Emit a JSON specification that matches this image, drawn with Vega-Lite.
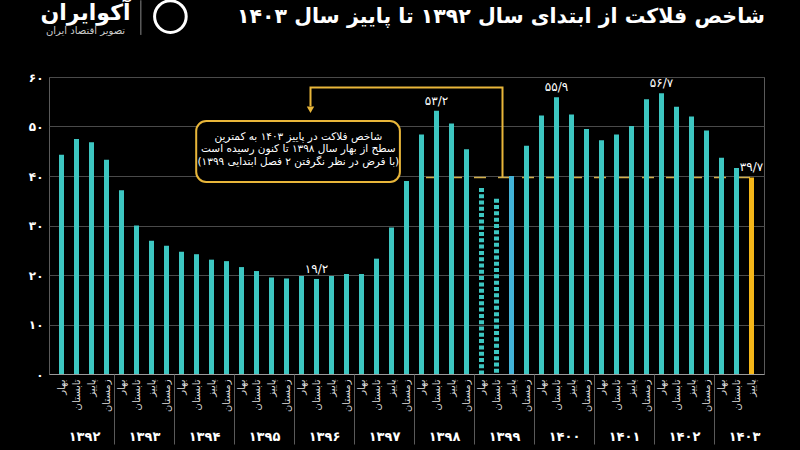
{
  "$schema": "https://vega.github.io/schema/vega-lite/v6.json",
  "width": 715,
  "height": 297,
  "autosize": {"type": "none"},
  "padding": {"left": 49, "top": 77, "right": 36, "bottom": 76},
  "background": "#000000",
  "config": {"font": "DejaVu Sans", "view": {"stroke": "#5a5a5a", "strokeWidth": 1}},
  "datasets": {
    "bars": [
      {"i": 0, "year": "۱۳۹۲", "season": "بهار", "value": 44.3, "kind": "normal"},
      {"i": 1, "year": "۱۳۹۲", "season": "تابستان", "value": 47.5, "kind": "normal"},
      {"i": 2, "year": "۱۳۹۲", "season": "پاییز", "value": 46.8, "kind": "normal"},
      {"i": 3, "year": "۱۳۹۲", "season": "زمستان", "value": 43.3, "kind": "normal"},
      {"i": 4, "year": "۱۳۹۳", "season": "بهار", "value": 37.1, "kind": "normal"},
      {"i": 5, "year": "۱۳۹۳", "season": "تابستان", "value": 30.0, "kind": "normal"},
      {"i": 6, "year": "۱۳۹۳", "season": "پاییز", "value": 26.9, "kind": "normal"},
      {"i": 7, "year": "۱۳۹۳", "season": "زمستان", "value": 25.9, "kind": "normal"},
      {"i": 8, "year": "۱۳۹۴", "season": "بهار", "value": 24.7, "kind": "normal"},
      {"i": 9, "year": "۱۳۹۴", "season": "تابستان", "value": 24.2, "kind": "normal"},
      {"i": 10, "year": "۱۳۹۴", "season": "پاییز", "value": 23.1, "kind": "normal"},
      {"i": 11, "year": "۱۳۹۴", "season": "زمستان", "value": 22.8, "kind": "normal"},
      {"i": 12, "year": "۱۳۹۵", "season": "بهار", "value": 21.6, "kind": "normal"},
      {"i": 13, "year": "۱۳۹۵", "season": "تابستان", "value": 20.8, "kind": "normal"},
      {"i": 14, "year": "۱۳۹۵", "season": "پاییز", "value": 19.5, "kind": "normal"},
      {"i": 15, "year": "۱۳۹۵", "season": "زمستان", "value": 19.3, "kind": "normal"},
      {"i": 16, "year": "۱۳۹۶", "season": "بهار", "value": 19.8, "kind": "normal"},
      {"i": 17, "year": "۱۳۹۶", "season": "تابستان", "value": 19.2, "kind": "normal"},
      {"i": 18, "year": "۱۳۹۶", "season": "پاییز", "value": 19.8, "kind": "normal"},
      {"i": 19, "year": "۱۳۹۶", "season": "زمستان", "value": 20.2, "kind": "normal"},
      {"i": 20, "year": "۱۳۹۷", "season": "بهار", "value": 20.2, "kind": "normal"},
      {"i": 21, "year": "۱۳۹۷", "season": "تابستان", "value": 23.3, "kind": "normal"},
      {"i": 22, "year": "۱۳۹۷", "season": "پاییز", "value": 29.6, "kind": "normal"},
      {"i": 23, "year": "۱۳۹۷", "season": "زمستان", "value": 39.0, "kind": "normal"},
      {"i": 24, "year": "۱۳۹۸", "season": "بهار", "value": 48.4, "kind": "normal"},
      {"i": 25, "year": "۱۳۹۸", "season": "تابستان", "value": 53.2, "kind": "normal"},
      {"i": 26, "year": "۱۳۹۸", "season": "پاییز", "value": 50.6, "kind": "normal"},
      {"i": 27, "year": "۱۳۹۸", "season": "زمستان", "value": 45.4, "kind": "normal"},
      {"i": 28, "year": "۱۳۹۹", "season": "بهار", "value": 37.6, "kind": "dotted"},
      {"i": 29, "year": "۱۳۹۹", "season": "تابستان", "value": 35.4, "kind": "dotted"},
      {"i": 30, "year": "۱۳۹۹", "season": "پاییز", "value": 40.0, "kind": "ref"},
      {"i": 31, "year": "۱۳۹۹", "season": "زمستان", "value": 46.1, "kind": "normal"},
      {"i": 32, "year": "۱۴۰۰", "season": "بهار", "value": 52.2, "kind": "normal"},
      {"i": 33, "year": "۱۴۰۰", "season": "تابستان", "value": 55.9, "kind": "normal"},
      {"i": 34, "year": "۱۴۰۰", "season": "پاییز", "value": 52.4, "kind": "normal"},
      {"i": 35, "year": "۱۴۰۰", "season": "زمستان", "value": 49.5, "kind": "normal"},
      {"i": 36, "year": "۱۴۰۱", "season": "بهار", "value": 47.2, "kind": "normal"},
      {"i": 37, "year": "۱۴۰۱", "season": "تابستان", "value": 48.4, "kind": "normal"},
      {"i": 38, "year": "۱۴۰۱", "season": "پاییز", "value": 50.1, "kind": "normal"},
      {"i": 39, "year": "۱۴۰۱", "season": "زمستان", "value": 55.5, "kind": "normal"},
      {"i": 40, "year": "۱۴۰۲", "season": "بهار", "value": 56.7, "kind": "normal"},
      {"i": 41, "year": "۱۴۰۲", "season": "تابستان", "value": 54.0, "kind": "normal"},
      {"i": 42, "year": "۱۴۰۲", "season": "پاییز", "value": 52.0, "kind": "normal"},
      {"i": 43, "year": "۱۴۰۲", "season": "زمستان", "value": 49.2, "kind": "normal"},
      {"i": 44, "year": "۱۴۰۳", "season": "بهار", "value": 43.7, "kind": "normal"},
      {"i": 45, "year": "۱۴۰۳", "season": "تابستان", "value": 41.6, "kind": "normal"},
      {"i": 46, "year": "۱۴۰۳", "season": "پاییز", "value": 39.7, "kind": "last"}
    ],
    "refline": [{"x": 24.3, "x2": 46, "y": 39.7}],
    "conn": [
      {"x": 16.6, "y": 54.1, "o": 1},
      {"x": 16.6, "y": 57.9, "o": 2},
      {"x": 29.4, "y": 57.9, "o": 3},
      {"x": 29.4, "y": 39.7, "o": 4}
    ],
    "arrow": [{"x": 16.6, "y": 53.4}],
    "box": [{"x": 8.98, "x2": 22.56, "y": 51.1, "y2": 38.8}],
    "boxtext": [
      {"x": 15.79, "y": 47.9, "t": "شاخص فلاکت در پاییز ۱۴۰۳ به کمترین"},
      {"x": 15.79, "y": 45.4, "t": "سطح از بهار سال ۱۳۹۸ تا کنون رسیده است"},
      {"x": 15.79, "y": 42.9, "t": "(با فرض در نظر نگرفتن ۲ فصل ابتدایی ۱۳۹۹)"}
    ],
    "labels": [
      {"i": 17, "value": 19.2, "t": "۱۹/۲"},
      {"i": 25, "value": 53.2, "t": "۵۳/۲"},
      {"i": 33, "value": 55.9, "t": "۵۵/۹"},
      {"i": 40, "value": 56.7, "t": "۵۶/۷"},
      {"i": 46, "value": 39.7, "t": "۳۹/۷"}
    ],
    "heading": [{"x": 46.9, "y": 71.0, "t": "شاخص فلاکت از ابتدای سال ۱۳۹۲ تا پاییز سال ۱۴۰۳"}],
    "logo": [
      {"x": 1.6, "y": 71.5, "t": "آکوایران", "k": "big"},
      {"x": 1.6, "y": 68.6, "t": "تصویر اقتصاد ایران", "k": "small"}
    ],
    "divider": [{"x": 5.29, "y": 75.5, "y2": 68.5}],
    "icon": [{"x": 7.26, "y": 72.2}]
  },
  "resolve": {"axis": {"x": "independent", "y": "independent"}},
  "layer": [
    {
      "data": {"name": "refline"},
      "mark": {"type": "rule", "color": "#d4b04a", "strokeWidth": 1.5, "strokeDash": [12, 12]},
      "encoding": {
        "x": {"field": "x", "type": "quantitative", "scale": {"domain": [-0.5, 46.5], "nice": false, "zero": false},
          "axis": {"orient": "bottom", "values": [1.5, 5.5, 9.5, 13.5, 17.5, 21.5, 25.5, 29.5, 33.5, 37.5, 41.5, 45.5],
            "labelExpr": "['۱۳۹۲','۱۳۹۳','۱۳۹۴','۱۳۹۵','۱۳۹۶','۱۳۹۷','۱۳۹۸','۱۳۹۹','۱۴۰۰','۱۴۰۱','۱۴۰۲','۱۴۰۳'][floor(datum.value/4)]",
            "labelAngle": 0, "labelFontSize": 13, "labelFontWeight": "bold", "labelColor": "#ffffff", "ticks": false, "domain": false, "grid": false,
            "offset": 54, "labelPadding": 2, "title": null, "labelBaseline": "top", "labelFlush": false, "labelOverlap": false}},
        "x2": {"field": "x2"},
        "y": {"field": "y", "type": "quantitative", "scale": {"domain": [0, 60], "nice": false}, "axis": null}
      }
    },
    {
      "data": {"name": "bars"},
      "transform": [{"filter": "datum.kind != 'dotted'"}],
      "mark": {"type": "bar", "width": 5},
      "encoding": {
        "x": {"field": "i", "type": "quantitative", "scale": {"domain": [-0.5, 46.5], "nice": false, "zero": false},
          "axis": {"orient": "bottom", "values": [0,1,2,3,4,5,6,7,8,9,10,11,12,13,14,15,16,17,18,19,20,21,22,23,24,25,26,27,28,29,30,31,32,33,34,35,36,37,38,39,40,41,42,43,44,45,46],
            "labelExpr": "['بهار','تابستان','پاییز','زمستان'][datum.value % 4]",
            "labelAngle": -90, "labelFontSize": 10, "labelColor": "#dddddd", "ticks": false, "domain": true, "domainColor": "#9a9a9a",
            "grid": false, "title": null, "labelPadding": 5, "labelFlush": false, "labelOverlap": false}},
        "y": {"field": "value", "type": "quantitative", "scale": {"domain": [0, 60], "nice": false},
          "axis": {"values": [0, 10, 20, 30, 40, 50, 60], "labelExpr": "['۰','۱۰','۲۰','۳۰','۴۰','۵۰','۶۰'][datum.value/10]",
            "grid": true, "gridColor": "#4a4a4a", "gridWidth": 1, "ticks": false, "domain": false, "title": null,
            "labelFontSize": 12, "labelColor": "#ffffff", "labelPadding": 6, "labelFontWeight": "bold"}},
        "color": {"field": "kind", "type": "nominal", "scale": {"domain": ["normal", "ref", "last"], "range": ["#3dc6c1", "#42b3d8", "#f4b619"]}, "legend": null}
      }
    },
    {
      "data": {"name": "bars"},
      "transform": [{"filter": "datum.kind == 'dotted'"}],
      "mark": {"type": "rule", "color": "#3dc6c1", "strokeWidth": 5, "strokeDash": [4, 2.3]},
      "encoding": {
        "x": {"field": "i", "type": "quantitative", "axis": null},
        "y": {"field": "value", "type": "quantitative", "axis": null},
        "y2": {"datum": 0}
      }
    },
    {
      "data": {"name": "conn"},
      "mark": {"type": "line", "color": "#e8b63a", "strokeWidth": 2},
      "encoding": {
        "x": {"field": "x", "type": "quantitative",
          "axis": {"orient": "bottom", "values": [3.5, 7.5, 11.5, 15.5, 19.5, 23.5, 27.5, 31.5, 35.5, 39.5, 43.5],
            "ticks": true, "tickSize": 70, "tickColor": "#5a5a5a", "tickWidth": 1, "labels": false, "domain": false, "grid": false, "title": null}},
        "y": {"field": "y", "type": "quantitative", "axis": null},
        "order": {"field": "o", "type": "quantitative"}
      }
    },
    {
      "data": {"name": "arrow"},
      "mark": {"type": "point", "shape": "triangle-down", "filled": true, "color": "#e8b63a", "size": 55, "opacity": 1},
      "encoding": {
        "x": {"field": "x", "type": "quantitative", "axis": null},
        "y": {"field": "y", "type": "quantitative", "axis": null}
      }
    },
    {
      "data": {"name": "box"},
      "mark": {"type": "rect", "fill": "#000000", "stroke": "#e8b63a", "strokeWidth": 2, "cornerRadius": 10},
      "encoding": {
        "x": {"field": "x", "type": "quantitative", "axis": null},
        "x2": {"field": "x2"},
        "y": {"field": "y", "type": "quantitative", "axis": null},
        "y2": {"field": "y2"}
      }
    },
    {
      "data": {"name": "boxtext"},
      "mark": {"type": "text", "color": "#ffffff", "fontSize": 10.5, "align": "center", "baseline": "middle"},
      "encoding": {
        "x": {"field": "x", "type": "quantitative", "axis": null},
        "y": {"field": "y", "type": "quantitative", "axis": null},
        "text": {"field": "t"}
      }
    },
    {
      "data": {"name": "labels"},
      "mark": {"type": "text", "color": "#ffffff", "fontSize": 12, "align": "center", "baseline": "bottom", "dy": -3},
      "encoding": {
        "x": {"field": "i", "type": "quantitative", "axis": null},
        "y": {"field": "value", "type": "quantitative", "axis": null},
        "text": {"field": "t"}
      }
    },
    {
      "data": {"name": "heading"},
      "mark": {"type": "text", "color": "#ffffff", "fontSize": 20.5, "fontWeight": "bold", "align": "right", "baseline": "alphabetic"},
      "encoding": {
        "x": {"field": "x", "type": "quantitative", "axis": null},
        "y": {"field": "y", "type": "quantitative", "axis": null},
        "text": {"field": "t"}
      }
    },
    {
      "data": {"name": "logo"},
      "transform": [{"filter": "datum.k == 'big'"}],
      "mark": {"type": "text", "color": "#ffffff", "fontSize": 22, "fontWeight": "bold", "align": "center", "baseline": "alphabetic"},
      "encoding": {
        "x": {"field": "x", "type": "quantitative", "axis": null},
        "y": {"field": "y", "type": "quantitative", "axis": null},
        "text": {"field": "t"}
      }
    },
    {
      "data": {"name": "logo"},
      "transform": [{"filter": "datum.k == 'small'"}],
      "mark": {"type": "text", "color": "#cccccc", "fontSize": 10, "align": "center", "baseline": "alphabetic"},
      "encoding": {
        "x": {"field": "x", "type": "quantitative", "axis": null},
        "y": {"field": "y", "type": "quantitative", "axis": null},
        "text": {"field": "t"}
      }
    },
    {
      "data": {"name": "divider"},
      "mark": {"type": "rule", "color": "#888888", "strokeWidth": 1},
      "encoding": {
        "x": {"field": "x", "type": "quantitative", "axis": null},
        "y": {"field": "y", "type": "quantitative", "axis": null},
        "y2": {"field": "y2"}
      }
    },
    {
      "data": {"name": "icon"},
      "mark": {"type": "point", "shape": "circle", "filled": false, "color": "#ffffff", "strokeWidth": 3, "size": 1000, "opacity": 1},
      "encoding": {
        "x": {"field": "x", "type": "quantitative", "axis": null},
        "y": {"field": "y", "type": "quantitative", "axis": null}
      }
    }
  ]
}
